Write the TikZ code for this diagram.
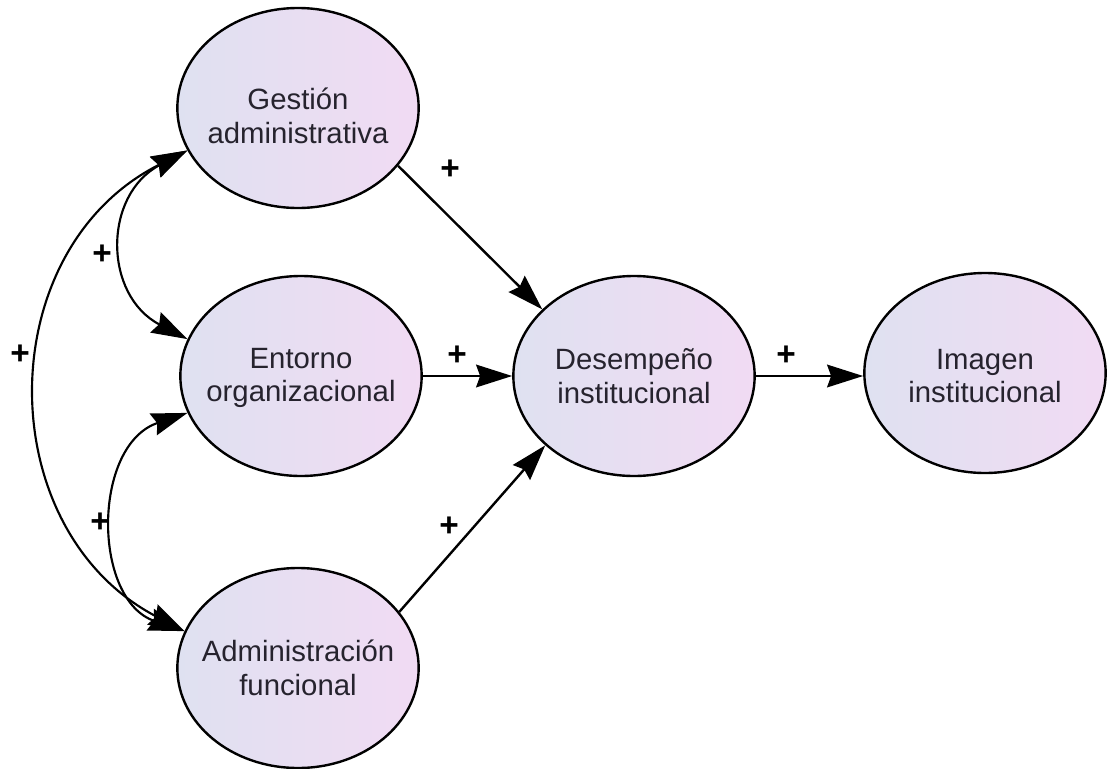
\documentclass[tikz,border=0pt]{standalone}
\usepackage{fontspec}
\setmainfont{Liberation Sans}
\usetikzlibrary{arrows.meta,shapes.geometric}
\definecolor{lavL}{RGB}{223,225,241}
\definecolor{lavR}{RGB}{241,219,243}
\definecolor{ink}{RGB}{38,35,46}
\begin{document}
\begin{tikzpicture}[x=0.75pt,y=-0.75pt,
  >={Stealth[length=27pt,width=17pt,inset=3pt]},
  construct/.style={ellipse, draw=black, line width=1.8pt,
    left color=lavL, right color=lavR, inner sep=0pt,
    minimum width=181pt, minimum height=150pt},
  caption/.style={align=center, text=ink, inner sep=0pt,
    font=\fontsize{22pt}{25pt}\selectfont},
  sign/.style={inner sep=0pt, font=\fontsize{25pt}{25pt}\selectfont\bfseries},
  path/.style={->, line width=1.8pt},
  link/.style={<->, line width=1.6pt}
]
\useasboundingbox (0,0) rectangle (1107,768);

% constructs
\node[construct] (G) at (298,108) {};
\node[construct] (E) at (301,376) {};
\node[construct] (A) at (298,668) {};
\node[construct] (D) at (634,376) {};
\node[construct] (I) at (985,373) {};

\node[caption] (Gt) at (298,116) {Gestión\\administrativa};
\node[caption] (Et) at (301,378) {Entorno\\organizacional};
\node[caption] (At) at (298,668) {Administración\\funcional};
\node[caption] (Dt) at (634,376) {Desempeño\\institucional};
\node[caption] (It) at (985,376) {Imagen\\institucional};

% correlations between the exogenous constructs
\draw[link] (G.201) .. controls (103,195) and (103,295) .. (E.162);
\draw[link] (E.198) .. controls (92,445) and (92,600) .. (A.162);
\draw[link] (G.201) .. controls (-10,250) and (-10,530) .. (A.162);

% structural paths
\draw[path] (G.330) -- (D.144);
\draw[path] (E.east) -- (D.west);
\draw[path] (A.29) -- (D.218);
\draw[path] (D.east) -- (I.west |- D.east);

% signs
\node[sign] (s1) at (450,170) {+};
\node[sign] (s2) at (457,356) {+};
\node[sign] (s3) at (449,527) {+};
\node[sign] (s4) at (786,356) {+};
\node[sign] (s5) at (102,255) {+};
\node[sign] (s6) at (100,523) {+};
\node[sign] (s7) at (20,355) {+};
\end{tikzpicture}
\end{document}
